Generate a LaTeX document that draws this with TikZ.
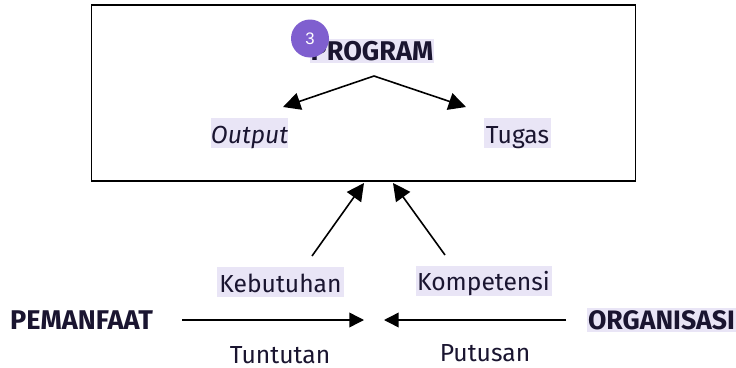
\documentclass[tikz,border=0pt]{standalone}
\usepackage{fontspec}
\setmainfont{Fira Sans}
\newfontfamily\badgefont{Liberation Sans}
\usetikzlibrary{arrows.meta}
\definecolor{hl}{HTML}{E9E5F6}
\definecolor{ink}{HTML}{1A1530}
\definecolor{badge}{HTML}{7F5FCF}
\tikzset{
  lbl/.style={inner sep=0pt,outer sep=0pt,text=ink,font=\fontsize{18.5}{20}\selectfont,anchor=center},
  hlbox/.style={lbl,fill=hl},
  head/.style={lbl,font=\fontsize{20.3}{22}\selectfont\bfseries},
  conn/.style={line width=1.2pt,-{Triangle[length=13pt,width=13pt]}},
  thin conn/.style={line width=1.1pt,-{Triangle[length=11pt,width=11pt]}}
}
\begin{document}
\begin{tikzpicture}[x=0.75pt,y=-0.75pt]
\useasboundingbox (0,0) rectangle (736,368);
\fill[white] (0,0) rectangle (736,368);
\node[draw=black,line width=1.4pt,minimum width=408pt,minimum height=131.6pt,inner sep=0pt] (frame) at (363.5,93) {};
\node[hlbox,minimum width=93pt,minimum height=18pt,font=\fontsize{20.3}{22}\selectfont\bfseries] (program) at (372,51) {PROGRAM};
\node[circle,fill=badge,minimum size=28.5pt,inner sep=0pt,text=white,font=\badgefont\fontsize{12.5}{13}\selectfont] (badge) at (310,38.5) {3};
\node[hlbox,minimum width=57.75pt,minimum height=22.5pt,text height=16pt,text depth=1pt,font=\fontsize{18.5}{20}\selectfont\itshape] (output) at (249.5,133) {Output};
\node[hlbox,minimum width=50.25pt,minimum height=22.5pt,text height=16pt,text depth=1pt] (tugas) at (517.5,133) {Tugas};
\node[hlbox,minimum width=95.25pt,minimum height=22.5pt,text height=16pt,text depth=1pt] (kebutuhan) at (280.5,282) {Kebutuhan};
\node[hlbox,minimum width=102pt,minimum height=22.5pt,text height=15.5pt,text depth=2pt] (kompetensi) at (483.5,281) {Kompetensi};
\node[head] (pemanfaat) at (81.5,320) {PEMANFAAT};
\node[hlbox,minimum width=111.75pt,minimum height=18pt,font=\fontsize{20}{22}\selectfont\bfseries] (organisasi) at (661.5,320) {ORGANISASI};
\node[lbl] (tuntutan) at (280,355) {Tuntutan};
\node[lbl] (putusan) at (485,353) {Putusan};
\coordinate (apex) at (374,76);
\coordinate (outtip) at (283,107);
\coordinate (tugtip) at (466,107);
\coordinate (kebstart) at (312,256);
\coordinate (kebtip) at (364,183);
\coordinate (komstart) at (445,255);
\coordinate (komtip) at (393,183);
\coordinate (lstart) at (182,320);
\coordinate (ltip) at (364,320);
\coordinate (rstart) at (566,320);
\coordinate (rtip) at (384,320);
\draw[conn] (apex) -- (outtip);
\draw[conn] (apex) -- (tugtip);
\draw[conn] (kebstart) -- (kebtip);
\draw[conn] (komstart) -- (komtip);
\draw[thin conn] (lstart) -- (ltip);
\draw[thin conn] (rstart) -- (rtip);
\end{tikzpicture}
\end{document}
